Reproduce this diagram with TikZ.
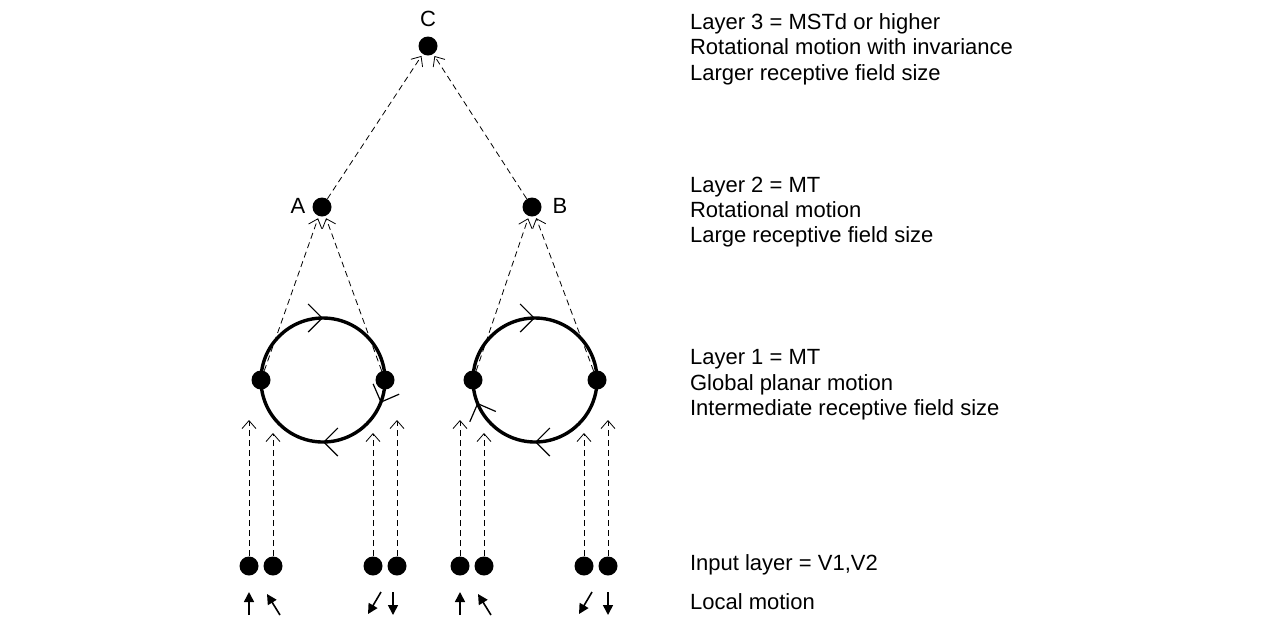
\documentclass[tikz,border=0pt]{standalone}
\usepackage{fontspec}
\setmainfont{Liberation Sans}
\usetikzlibrary{arrows.meta,decorations.markings}

\tikzset{
  unit/.style={circle, fill=black, inner sep=0pt, minimum size=9.5pt},
  feed/.style={dash pattern=on 3pt off 2pt, -{Straight Barb[length=4pt,width=7pt]}, shorten >=1pt},
  motion/.style={thick, -{Triangle[length=5pt,width=5pt]}},
  ring/.style={line width=1.7pt, postaction={decorate}},
  layertext/.style={anchor=west, align=left, font=\fontsize{11}{12.7}\selectfont}
}

\begin{document}
\begin{tikzpicture}[x=0.5pt, y=-0.5pt]
            \useasboundingbox (0,0) rectangle (1261,628);

            % Layer 3
            \node[unit] (C) at (428,46) {};
            \node[font=\fontsize{11}{12}\selectfont] at (428,19) {C};

            % Layer 2
            \node[unit] (A) at (322,207) {};
            \node[unit] (B) at (532,207) {};
            \node[font=\fontsize{11}{12}\selectfont] at (298,206) {A};
            \node[font=\fontsize{11}{12}\selectfont] at (560,206) {B};

            % Layer 1 rings
            \draw[ring, decoration={markings,
                mark=at position 0.06 with {\arrow[line width=0.6pt]{Straight Barb[length=7pt,width=14pt]}},
                mark=at position 0.25 with {\arrow[line width=0.6pt]{Straight Barb[length=7pt,width=14pt]}},
                mark=at position 0.75 with {\arrow[line width=0.6pt]{Straight Barb[length=7pt,width=14pt]}}}]
                (323,380) circle (62);
            \draw[ring, decoration={markings,
                mark=at position 0.25 with {\arrow[line width=0.6pt]{Straight Barb[length=7pt,width=14pt]}},
                mark=at position 0.44 with {\arrow[line width=0.6pt]{Straight Barb[length=7pt,width=14pt]}},
                mark=at position 0.75 with {\arrow[line width=0.6pt]{Straight Barb[length=7pt,width=14pt]}}}]
                (535,380) circle (62);

            \node[unit] (L1) at (261,380) {};
            \node[unit] (L2) at (385,380) {};
            \node[unit] (R1) at (473,380) {};
            \node[unit] (R2) at (597,380) {};

            % Input layer
            \foreach \x/\n in {249/i1, 273/i2, 373/i3, 397/i4, 460/i5, 484/i6, 584/i7, 608/i8}
                \node[unit] (\n) at (\x,566) {};

            % feed-forward connections
            \draw[feed] (A) -- (C);
            \draw[feed] (B) -- (C);
            \draw[feed] (L1) -- (A);
            \draw[feed] (L2) -- (A);
            \draw[feed] (R1) -- (B);
            \draw[feed] (R2) -- (B);

            \coordinate (t1) at (249,418);
            \coordinate (t2) at (273,431);
            \coordinate (t3) at (373,431);
            \coordinate (t4) at (397,418);
            \coordinate (t5) at (460,418);
            \coordinate (t6) at (484,431);
            \coordinate (t7) at (584,431);
            \coordinate (t8) at (608,418);
            \foreach \k in {1,...,8}
                \draw[feed] (i\k) -- (t\k);

            % local motion
            \draw[motion] (249,615) -- (249,592);
            \draw[motion] (280,615) -- (267,594);
            \draw[motion] (381,592) -- (368,614);
            \draw[motion] (393,592) -- (393,615);
            \draw[motion] (460,615) -- (460,592);
            \draw[motion] (491,615) -- (478,594);
            \draw[motion] (592,592) -- (579,614);
            \draw[motion] (608,592) -- (608,615);

            % descriptions
            \node[layertext] at (683,49) {Layer 3 = MSTd or higher\\Rotational motion with invariance\\Larger receptive field size};
            \node[layertext] at (683,212) {Layer 2 = MT\\Rotational motion\\Large receptive field size};
            \node[layertext] at (683,385) {Layer 1 = MT\\Global planar motion\\Intermediate receptive field size};
            \node[layertext] at (683,565) {Input layer = V1,V2};
            \node[layertext] at (683,602) {Local motion};
\end{tikzpicture}
\end{document}
